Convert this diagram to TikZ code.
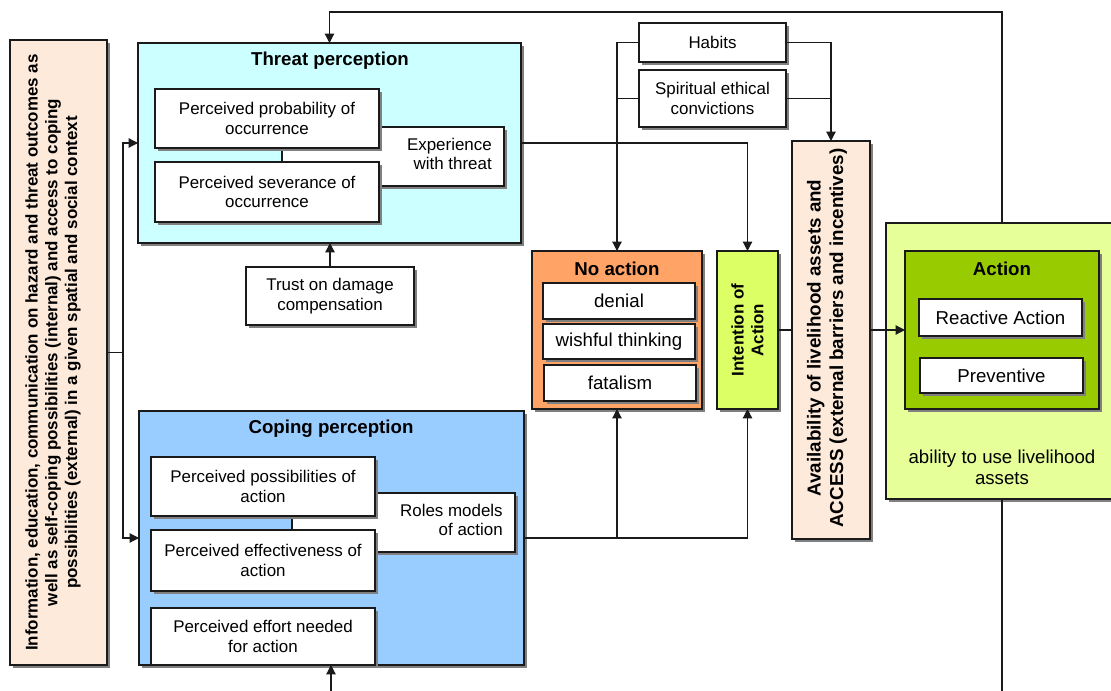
\documentclass[tikz,border=0pt]{standalone}
\usepackage{fontspec}
\setmainfont{Liberation Sans}
\usetikzlibrary{arrows.meta,shadows}

\definecolor{peach}{HTML}{FDEADA}
\definecolor{threatcyan}{HTML}{CCFFFF}
\definecolor{copingblue}{HTML}{99CCFF}
\definecolor{noactorange}{HTML}{FFA366}
\definecolor{intentgreen}{HTML}{DDFF66}
\definecolor{palegreen}{HTML}{E6FF99}
\definecolor{actiongreen}{HTML}{99CC00}
\definecolor{inkline}{HTML}{1A1A1A}

\tikzset{
  % rectangle given by its corners (x1:y1:x2:y2), in picture units
  box corners/.code args={#1:#2:#3:#4}{%
    \pgfmathsetmacro\bxcx{(#1+#3)/2}%
    \pgfmathsetmacro\bxcy{(#2+#4)/2}%
    \pgfmathsetmacro\bxw{(#3-#1)*0.75}%
    \pgfmathsetmacro\bxh{(#4-#2)*0.75}%
    \edef\bxnext{\noexpand\tikzset{at={(\bxcx,\bxcy)},minimum width=\bxw pt,minimum height=\bxh pt}}%
    \bxnext},
  txt/.style={font=\fontsize{12.7}{14.5}\selectfont, align=center},
  bigtxt/.style={font=\fontsize{14}{16.5}\selectfont, align=center},
  title/.style={font=\bfseries\fontsize{14}{16.5}\selectfont, inner sep=0pt},
  vtxt/.style={font=\bfseries\fontsize{12.7}{14.8}\selectfont, align=center, rotate=90, inner sep=0pt},
  vbigtxt/.style={font=\bfseries\fontsize{14.1}{17}\selectfont, align=center, rotate=90, inner sep=0pt},
  frame/.style={draw=inkline, line width=1.1pt, inner sep=0pt, outer sep=0pt, anchor=center,
    drop shadow={shadow xshift=2.4pt, shadow yshift=-2.4pt, fill=black!50, opacity=1}},
  whitebox/.style={frame, fill=white},
  link/.style={draw=inkline, line width=0.9pt},
  arr/.style={link, -{Triangle[length=7pt,width=7pt]}},
}

\begin{document}
\begin{tikzpicture}[x=0.75pt,y=-0.75pt]
\clip (0,0) rectangle (1111,691);
\fill[white] (0,0) rectangle (1111,691);

% information box on the left
\node[frame, fill=peach, box corners=10:40:107:665] (info) {};
\node[vtxt] (infotext) at (53,352.5)
  {Information, education, communication on hazard and threat outcomes as\\
   well as self-coping possibilities (internal) and access to coping\\
   possibilities (external) in a given spatial and social context};

% threat perception
\node[frame, fill=threatcyan, box corners=138:43:521:243] (threat) {};
\node[title] (threattitle) at (330,61) {Threat perception};
\node[whitebox, box corners=282:127:504:186] (exper) {};
\node[txt, inner sep=0pt, anchor=east, align=right] (expertext) at (492,154) {Experience\\with threat};
\node[whitebox, txt, box corners=155:89:379:148] (pprob) {Perceived probability of\\occurrence};
\node[whitebox, txt, box corners=155:162:379:222] (psev) {Perceived severance of\\occurrence};

\node[whitebox, txt, box corners=246:267:414:325] (trust) {Trust on damage\\compensation};

% coping perception
\node[frame, fill=copingblue, box corners=139:411:524:665] (coping) {};
\node[title] (copingtitle) at (331,429) {Coping perception};
\node[whitebox, box corners=292:493:515:552] (roles) {};
\node[txt, inner sep=0pt, anchor=east, align=right] (rolestext) at (503,520) {Roles models\\of action};
\node[whitebox, txt, box corners=151:457:375:516] (pposs) {Perceived possibilities of\\action};
\node[whitebox, txt, box corners=151:530:375:591] (peff) {Perceived effectiveness of\\action};
\node[whitebox, txt, box corners=151:608:375:665] (peffort) {Perceived effort needed\\for action};

% habits and convictions
\node[whitebox, txt, box corners=639:23:786:62] (habits) {Habits};
\node[whitebox, txt, box corners=639:70:786:127] (spirit) {Spiritual ethical\\convictions};

% no action
\node[frame, fill=noactorange, box corners=532:251:702:409] (noaction) {};
\node[title] (noactiontitle) at (617,269) {No action};
\node[whitebox, bigtxt, box corners=543:283:695:319] (denial) {denial};
\node[whitebox, bigtxt, box corners=543:324:695:359] (wishful) {wishful thinking};
\node[whitebox, bigtxt, box corners=544:365:696:401] (fatal) {fatalism};

% intention of action
\node[frame, fill=intentgreen, box corners=717:251:778:409] (intent) {};
\node[vtxt] (intenttext) at (747.5,330) {Intention of\\Action};

% availability of assets
\node[frame, fill=peach, box corners=792:141:870:539] (avail) {};
\node[vbigtxt] (availtext) at (827,338) {Availability of livelihood assets and\\ACCESS (external barriers and incentives)};

% action
\node[frame, fill=palegreen, box corners=886:223:1118:499] (outer) {};
\node[frame, fill=actiongreen, box corners=905:251:1099:409] (action) {};
\node[title] (actiontitle) at (1002,269) {Action};
\node[whitebox, bigtxt, box corners=919:299:1082:336] (reactive) {Reactive Action};
\node[whitebox, bigtxt, box corners=920:358:1083:393] (prevent) {Preventive};
\node[bigtxt, inner sep=0pt, font=\fontsize{14}{16}\selectfont] (ability) at (1002,467) {ability to use livelihood\\assets};

% connectors
\coordinate (split) at (123,352.5);
\draw[link] (info.east) -- (split);
\draw[arr] (split) |- (threat.west);
\draw[arr] (split) |- (coping.west);

\coordinate (fbtop) at (1002,12);
\coordinate (fbbottom) at (1002,695);
\draw[arr] (outer.north -| fbtop) -- (fbtop) -| (threat.north);
\draw[link] (outer.south -| fbbottom) -- (fbbottom);
\coordinate (cpbottom) at (331,695);
\draw[arr] (cpbottom) -- (coping.south -| cpbottom);

\draw[arr] (trust.north) -- (threat.south -| trust.north);

\draw[arr] (habits.west) -| (noaction.north);
\draw[link] (spirit.west) -- (spirit.west -| noaction.north);
\draw[arr] (habits.east) -| (avail.north);
\draw[link] (spirit.east) -- (spirit.east -| avail.north);

\draw[arr] (threat.east) -| (intent.north);
\draw[arr] (coping.east) -| (intent.south);
\draw[arr] (coping.east -| noaction.south) -- (noaction.south);

\draw[link] (intent.east) -- (avail.west |- intent.east);
\draw[arr] (avail.east |- action.west) -- (action.west);
\end{tikzpicture}
\end{document}
